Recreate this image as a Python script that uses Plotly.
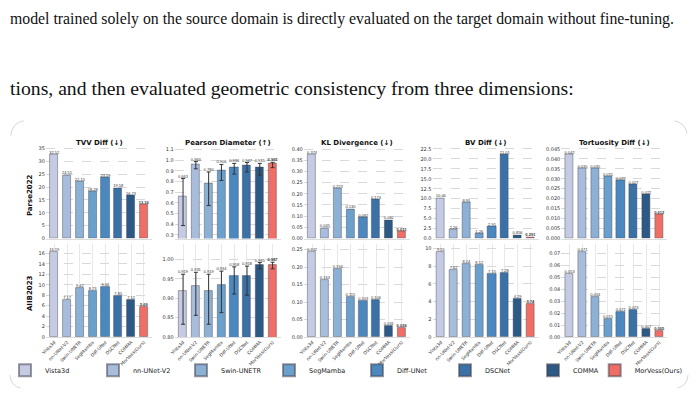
import plotly.graph_objects as go

W, H = 700, 394

methods = ["Vista3d", "nn-UNet-V2", "Swin-UNETR", "SegMamba", "Diff-UNet", "DSCNet", "COMMA", "MorVess(Ours)"]
colors = ["#c5cbe3", "#a8bddc", "#8db0d5", "#6ca0cc", "#4a88bf", "#3a72a8", "#2c5985", "#ef6f67"]
metrics = ["TVV Diff (↓)", "Pearson Diameter (↑)", "KL Divergence (↓)", "BV Diff (↓)", "Tortuosity Diff (↓)"]
datasets = ["Parse2022", "AIIB2023"]

# Parse2022
parse_tvv = [32.52, 24.51, 22.15, 18.28, 23.59, 19.58, 16.73, 13.16]
parse_pearson = [0.663, 0.963, 0.780, 0.906, 0.936, 0.947, 0.935, 0.965]
parse_pearson_err_plus = [0.165, 0.024, 0.110, 0.054, 0.034, 0.031, 0.035, 0.015]
parse_pearson_err_minus = [0.275, 0.044, 0.205, 0.096, 0.066, 0.057, 0.075, 0.035]
parse_kl = [0.374, 0.045, 0.223, 0.130, 0.092, 0.174, 0.082, 0.031]
parse_bv = [10.06, 2.26, 8.95, 1.26, 2.91, 21.01, 0.856, 0.291]
parse_tort = [0.042, 0.035, 0.035, 0.031, 0.029, 0.027, 0.022, 0.012]

# AIIB2023
aiib_tvv = [16.19, 7.17, 9.42, 8.73, 9.52, 7.85, 7.12, 5.69]
aiib_pearson = [0.919, 0.931, 0.919, 0.934, 0.958, 0.958, 0.985, 0.987]
aiib_pearson_err_plus = [0.043, 0.036, 0.043, 0.036, 0.023, 0.025, 0.007, 0.006]
aiib_pearson_err_minus = [0.086, 0.075, 0.086, 0.071, 0.047, 0.050, 0.009, 0.011]
aiib_kl = [0.242, 0.163, 0.194, 0.115, 0.103, 0.106, 0.031, 0.026]
aiib_bv = [9.55, 7.62, 8.24, 8.12, 7.15, 7.28, 4.29, 3.74]
aiib_tort = [0.053, 0.071, 0.034, 0.015, 0.021, 0.023, 0.007, 0.005]

rows = [
    [(parse_tvv, None, None), (parse_pearson, parse_pearson_err_plus, parse_pearson_err_minus),
     (parse_kl, None, None), (parse_bv, None, None), (parse_tort, None, None)],
    [(aiib_tvv, None, None), (aiib_pearson, aiib_pearson_err_plus, aiib_pearson_err_minus),
     (aiib_kl, None, None), (aiib_bv, None, None), (aiib_tort, None, None)],
]

# layout helpers (pixels -> paper)
def px(x):
    return x / W

def py(y):
    return 1 - y / H

col_left = [41.7, 172.7, 304.0, 435.0, 566.0]
col_w = 108.0
row_top = [147.0, 245.5]
row_bot = [240.0, 339.5]

tick_dtick = [[5, 0.1, 0.05, 2.5, 0.005], [2, 0.05, 0.05, 2, 0.01]]
tick_fmt = [["d", ".1f", ".2f", ".1f", ".3f"], ["d", ".2f", ".2f", "d", ".2f"]]
pearson_ranges = [[0.266, 1.128], [0.80, 1.04]]

def fmt(v):
    return f"{v:.3f}" if v < 1 else f"{v:.2f}"

fig = go.Figure()
layout = {}
font_fam = "DejaVu Sans"
label_fam = "Liberation Sans Narrow, Liberation Sans"

for r in range(2):
    for c in range(5):
        k = r * 5 + c + 1
        xa = "x" if k == 1 else f"x{k}"
        ya = "y" if k == 1 else f"y{k}"
        vals, ep, em = rows[r][c]
        for i, m in enumerate(methods):
            err = None
            if ep is not None:
                err = dict(type="data", symmetric=False, array=[ep[i]], arrayminus=[em[i]],
                           color="#333333", thickness=1, width=2)
            fig.add_trace(go.Bar(
                x=[m], y=[vals[i]], name=m, legendgroup=m, showlegend=(k == 1),
                legend=("legend2" if i == 7 else "legend"),
                marker=dict(color=colors[i], line=dict(color="rgba(70,70,80,0.55)", width=0.8)),
                width=0.65, error_y=err, xaxis=xa, yaxis=ya, hoverinfo="skip"))
        tops = [v + (ep[i] if ep is not None else 0) for i, v in enumerate(vals)]
        labels = [fmt(v) if i < 7 else f"<b>{fmt(v)}</b>" for i, v in enumerate(vals)]
        fig.add_trace(go.Scatter(
            x=methods, y=tops, mode="text", text=labels, textposition="top center",
            textfont=dict(size=4, color="#333333", family=label_fam),
            showlegend=False, xaxis=xa, yaxis=ya, hoverinfo="skip"))

        if c == 1:
            yr = pearson_ranges[r]
        else:
            yr = [0, 1.1 * max(vals)]
        layout["xaxis" if k == 1 else f"xaxis{k}"] = dict(
            domain=[px(col_left[c]), px(col_left[c] + col_w)], anchor=ya,
            type="category", categoryorder="array", categoryarray=methods,
            range=[-0.65, 7.65], showticklabels=(r == 1), tickangle=-45,
            tickfont=dict(size=4.5, color="#333333", family=font_fam),
            showgrid=(r == 1), gridcolor="#e8e8e8", gridwidth=0.6,
            showline=True, linecolor="#dddddd", linewidth=0.8, ticks="", zeroline=False)
        layout["yaxis" if k == 1 else f"yaxis{k}"] = dict(
            domain=[py(row_bot[r]), py(row_top[r])], anchor=xa, range=yr,
            dtick=tick_dtick[r][c], tickformat=tick_fmt[r][c],
            tickfont=dict(size=5, color="#333333", family=font_fam),
            showgrid=True, gridcolor="#d9d9d9", gridwidth=0.6, griddash="dash",
            zeroline=False, showline=False, ticks="")

annotations = []
for c in range(5):
    annotations.append(dict(
        text=f"<b>{metrics[c]}</b>", x=px(col_left[c] + col_w / 2), y=py(143), xref="paper", yref="paper",
        showarrow=False, font=dict(size=7, color="#111111", family=font_fam), xanchor="center", yanchor="middle"))
for r in range(2):
    annotations.append(dict(
        text=f"<b>{datasets[r]}</b>", x=px(25), y=py((row_top[r] + row_bot[r]) / 2 + 3), xref="paper", yref="paper",
        showarrow=False, textangle=-90, font=dict(size=7, color="#111111", family=font_fam),
        xanchor="center", yanchor="middle"))

annotations.append(dict(
    text="model trained solely on the source domain is directly evaluated on the target domain without fine-tuning.",
    x=px(3), y=py(18), xref="paper", yref="paper", showarrow=False, xanchor="left", yanchor="middle",
    font=dict(size=15.8, color="#111111", family="Liberation Serif")))
annotations.append(dict(
    text="tions, and then evaluated geometric consistency from three dimensions:",
    x=px(3), y=py(88), xref="paper", yref="paper", showarrow=False, xanchor="left", yanchor="middle",
    font=dict(size=19.7, color="#111111", family="Liberation Serif")))

def arc(x0, y0, cx, cy, x1, y1):
    return dict(type="path", xref="paper", yref="paper",
                path=f"M {px(x0)},{py(y0)} Q {px(cx)},{py(cy)} {px(x1)},{py(y1)}",
                line=dict(color="#cccccc", width=0.8))

shapes = [
    arc(6, 136, 7, 123, 19, 121),
    arc(681, 121, 692, 123, 694, 134),
    arc(5, 378, 6, 389, 16, 391),
    arc(684, 391, 694, 389, 695, 378),
]

legend_common = dict(orientation="h", yanchor="middle", xanchor="left",
                     entrywidthmode="pixels", itemsizing="constant",
                     font=dict(size=6.5, color="#222222", family=font_fam),
                     bgcolor="rgba(0,0,0,0)", tracegroupgap=0)

fig.update_layout(
    width=W, height=H, margin=dict(l=0, r=0, t=0, b=0),
    paper_bgcolor="white", plot_bgcolor="white",
    barmode="overlay", bargap=0,
    annotations=annotations, shapes=shapes,
    legend=dict(x=0, y=py(373), entrywidth=43, **legend_common),
    legend2=dict(x=px(600), y=py(373), entrywidth=60, **legend_common),
    **layout)

fig.write_html("out.html")
